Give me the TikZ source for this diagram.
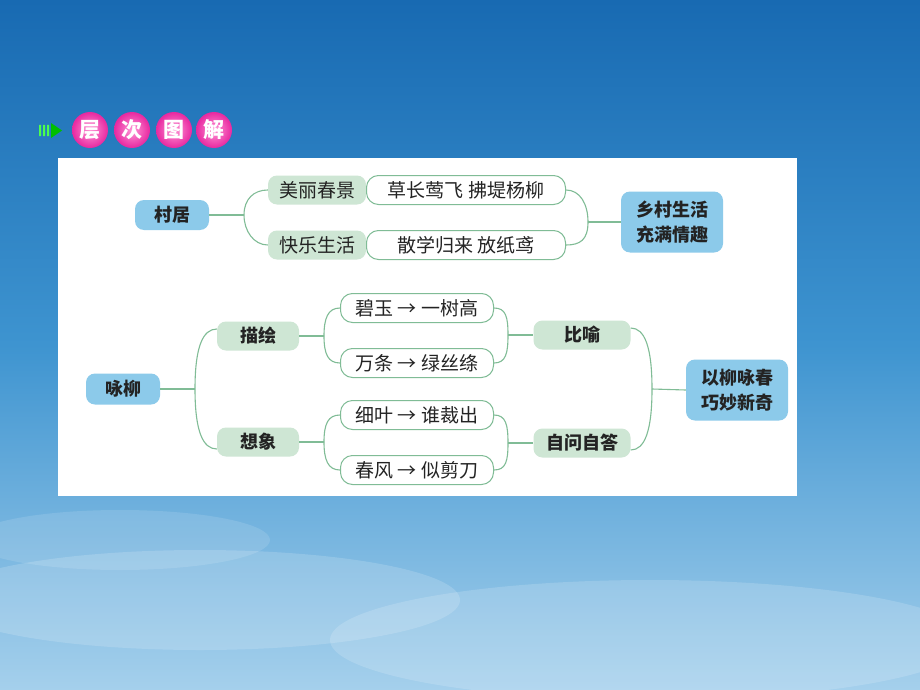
\documentclass[tikz,border=0pt]{standalone}
\usepackage{fontspec}
\newfontfamily\cjk{Noto Sans CJK SC}
\usetikzlibrary{shapes,positioning}
\definecolor{skytop}{RGB}{24,106,178}
\definecolor{skymid}{RGB}{62,148,208}
\definecolor{skybot}{RGB}{165,208,236}
\definecolor{boxblue}{RGB}{140,202,234}
\definecolor{boxgreen}{RGB}{206,230,212}
\definecolor{linegreen}{RGB}{128,188,150}
\definecolor{txt}{RGB}{35,35,35}
\definecolor{pinkball}{RGB}{232,40,160}
\definecolor{pinklight}{RGB}{255,150,215}
\tikzset{
  topic/.style={rectangle, rounded corners=9pt, fill=boxblue, text=txt,
    font=\cjk\bfseries\fontsize{18}{25}\selectfont, inner sep=0pt, align=center},
  branch/.style={rectangle, rounded corners=9pt, fill=boxgreen, text=txt,
    minimum height=29pt, inner sep=0pt},
  leaf/.style={rectangle, rounded corners=12pt, draw=linegreen, line width=1pt,
    fill=white, text=txt, font=\cjk\fontsize{19}{23}\selectfont,
    minimum height=29pt, inner sep=0pt},
  link/.style={draw=linegreen, line width=1.1pt},
  ball/.style={circle, shading=radial, inner color=pinklight, outer color=pinkball,
    minimum size=36pt, inner sep=0pt, text=white,
    font=\cjk\bfseries\fontsize{21}{21}\selectfont}
}
\begin{document}
\begin{tikzpicture}[x=1pt,y=-1pt]
  \useasboundingbox (0,0) rectangle (920,690);
  % sky
  \shade[top color=skytop, bottom color=skymid] (0,0) rectangle (920,345);
  \shade[top color=skymid, bottom color=skybot] (0,345) rectangle (920,690);
  \fill[white, opacity=0.16] (200,600) ellipse (260 and 50);
  \fill[white, opacity=0.16] (650,640) ellipse (320 and 60);
  \fill[white, opacity=0.12] (120,540) ellipse (150 and 30);
  % heading
  \fill[green!70!white] (39,125) rectangle (41,136) (43,125) rectangle (45,136)
    (47,125) rectangle (49,136);
  \fill[green!75!black] (51,123) -- (62,130.5) -- (51,138) -- cycle;
  \node[ball] (h1) at (90,130) {层};
  \node[ball] (h2) at (132,130) {次};
  \node[ball] (h3) at (174,130) {图};
  \node[ball] (h4) at (214,130) {解};
  % panel
  \fill[white] (58,158) rectangle (797,496);

  % Cun ju
  \node[topic, minimum width=74pt, minimum height=30pt] (cunju) at (172,215) {村居};
  \node[branch, font=\cjk\fontsize{19}{23}\selectfont, minimum width=98pt] (meili) at (317,190) {美丽春景};
  \node[branch, font=\cjk\fontsize{19}{23}\selectfont, minimum width=98pt] (kuaile) at (317,245) {快乐生活};
  \node[leaf, minimum width=199pt] (caozhang) at (466,190) {草长莺飞\ 拂堤杨柳};
  \node[leaf, minimum width=199pt] (sanxue) at (466,245) {散学归来\ 放纸鸢};
  \node[topic, minimum width=102pt, minimum height=61pt] (xiangcun) at (672,222) {乡村生活\\充满情趣};
  \coordinate (j1) at (244,215);
  \coordinate (j2) at (588,222);
  \draw[link] (cunju.east) -- (j1);
  \draw[link] (j1) .. controls +(0,-16) and +(-14,0) .. (meili.west);
  \draw[link] (j1) .. controls +(0,16) and +(-14,0) .. (kuaile.west);
  \draw[link] (caozhang.east) .. controls +(14,0) and +(0,-18) .. (j2);
  \draw[link] (sanxue.east) .. controls +(14,0) and +(0,18) .. (j2);
  \draw[link] (j2) -- (xiangcun.west);

  % Yong liu
  \node[topic, minimum width=74pt, minimum height=31pt] (yongliu) at (123,389) {咏柳};
  \node[branch, font=\cjk\bfseries\fontsize{18}{23}\selectfont, minimum width=82pt] (miaohui) at (258,336) {描绘};
  \node[branch, font=\cjk\bfseries\fontsize{18}{23}\selectfont, minimum width=82pt] (xiangxiang) at (258,442) {想象};
  \node[leaf, minimum width=153pt] (biyu) at (417,308) {碧玉 → 一树高};
  \node[leaf, minimum width=153pt] (wantiao) at (417,363) {万条 → 绿丝绦};
  \node[leaf, minimum width=153pt] (xiye) at (417,415) {细叶 → 谁裁出};
  \node[leaf, minimum width=153pt] (chunfeng) at (417,470) {春风 → 似剪刀};
  \node[branch, font=\cjk\bfseries\fontsize{18}{23}\selectfont, minimum width=97pt] (biyu2) at (582,335) {比喻};
  \node[branch, font=\cjk\bfseries\fontsize{18}{23}\selectfont, minimum width=97pt] (ziwen) at (582,443) {自问自答};
  \node[topic, minimum width=102pt, minimum height=61pt] (yiliu) at (737,390) {以柳咏春\\巧妙新奇};
  \coordinate (k1) at (195,389);
  \coordinate (k2) at (324,336);
  \coordinate (k3) at (324,442);
  \coordinate (k4) at (508,335);
  \coordinate (k5) at (508,443);
  \coordinate (k6) at (652,389);
  \draw[link] (yongliu.east) -- (k1);
  \draw[link] (k1) .. controls +(0,-42) and +(-14,0) .. ([yshift=7pt]miaohui.west);
  \draw[link] (k1) .. controls +(0,42) and +(-14,0) .. ([yshift=-7pt]xiangxiang.west);
  \draw[link] (miaohui.east) -- (k2);
  \draw[link] (k2) .. controls +(0,-18) and +(-12,0) .. (biyu.west);
  \draw[link] (k2) .. controls +(0,18) and +(-12,0) .. (wantiao.west);
  \draw[link] (xiangxiang.east) -- (k3);
  \draw[link] (k3) .. controls +(0,-18) and +(-12,0) .. (xiye.west);
  \draw[link] (k3) .. controls +(0,18) and +(-12,0) .. (chunfeng.west);
  \draw[link] (biyu.east) .. controls +(12,0) and +(0,-18) .. (k4);
  \draw[link] (wantiao.east) .. controls +(12,0) and +(0,18) .. (k4);
  \draw[link] (k4) -- (biyu2.west);
  \draw[link] (xiye.east) .. controls +(12,0) and +(0,-18) .. (k5);
  \draw[link] (chunfeng.east) .. controls +(12,0) and +(0,18) .. (k5);
  \draw[link] (k5) -- (ziwen.west);
  \draw[link] ([yshift=7pt]biyu2.east) .. controls +(14,0) and +(0,-42) .. (k6);
  \draw[link] ([yshift=-7pt]ziwen.east) .. controls +(14,0) and +(0,42) .. (k6);
  \draw[link] (k6) -- (yiliu.west);
\end{tikzpicture}
\end{document}
